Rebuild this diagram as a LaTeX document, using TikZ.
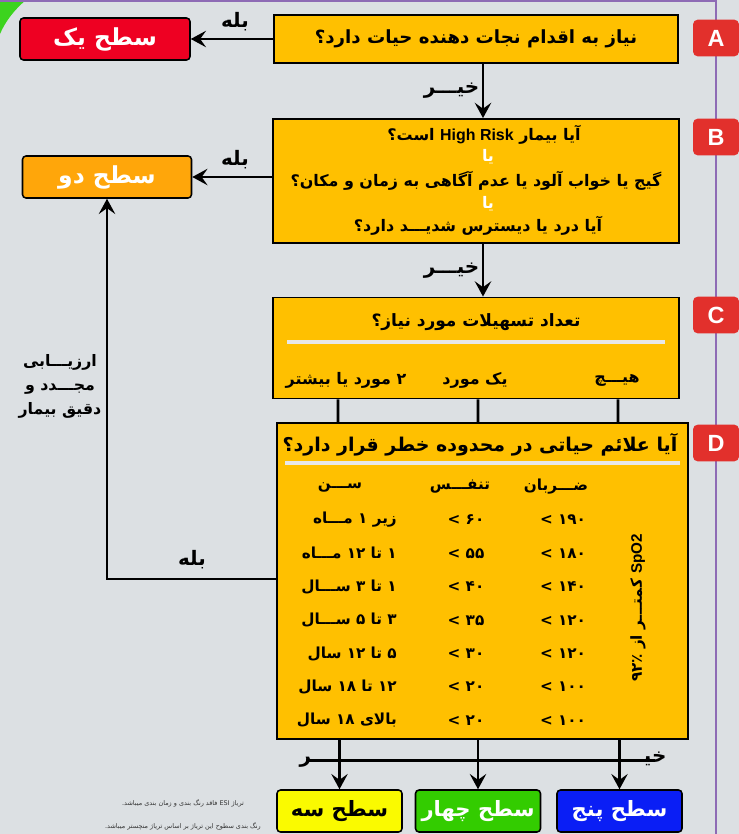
\documentclass[tikz,border=0pt]{standalone}
\usepackage{fontspec}
\setmainfont{DejaVu Sans}
\newfontfamily\fa[Script=Arabic]{DejaVu Sans}
\newfontfamily\lat{Liberation Sans}
\TeXXeTstate=1
\usetikzlibrary{arrows.meta,positioning}

\definecolor{bgray}{HTML}{DCE0E3}
\definecolor{qyellow}{HTML}{FFC000}
\definecolor{lvlred}{HTML}{EE0022}
\definecolor{lvlorange}{HTML}{FFA60A}
\definecolor{lvlyellow}{HTML}{FAFA00}
\definecolor{lvlgreen}{HTML}{33CC00}
\definecolor{lvlblue}{HTML}{0A1EF5}
\definecolor{tagred}{HTML}{E2302C}
\definecolor{edgepurple}{HTML}{8E6BB5}
\definecolor{cornergreen}{HTML}{3CD41E}
\definecolor{rulegray}{HTML}{E8E8E8}

\begin{document}
\begin{tikzpicture}[x=0.03cm, y=-0.03cm,
    qbox/.style={draw, line width=1.6pt, fill=qyellow, inner sep=0pt},
    lvl/.style={draw, line width=1.3pt, rounded corners=3pt, inner sep=0pt, minimum height=1.26cm, font=\fa\bfseries\fontsize{20}{22}\selectfont},
    tag/.style={fill=tagred, rounded corners=4pt, minimum width=1.38cm, minimum height=1.1cm, text=white, font=\lat\bfseries\fontsize{20}{22}\selectfont},
    txt/.style={inner sep=0pt, font=\fa\bfseries\fontsize{13.6}{15}\selectfont},
    big/.style={inner sep=0pt, font=\fa\bfseries\fontsize{15.5}{17}\selectfont},
    yn/.style={inner sep=0pt, font=\fa\bfseries\fontsize{17}{19}\selectfont},
    cell/.style={inner sep=0pt, font=\fa\bfseries\fontsize{13}{15}\selectfont},
    arr/.style={-{Stealth[length=13pt, width=14pt, inset=5pt]}, line width=2.4pt},
    link/.style={line width=2.4pt},
    rule/.style={draw=rulegray, line width=3pt}
]
    \fill[bgray] (0,0) rectangle (739,834);
    \useasboundingbox (0,0) rectangle (739,834);
    \fill[cornergreen] (0,0) -- (26,0) .. controls (14,10) and (5,22) .. (0,34) -- cycle;
    \draw[edgepurple, line width=1pt] (716,0) -- (716,834);
    \draw[edgepurple, line width=1pt] (0,1) -- (716,1);

    % step A
    \node[qbox, minimum width=12.12cm, minimum height=1.44cm, big] (qa) at (476,39) {\beginR نیاز به اقدام نجات دهنده حیات دارد؟\endR};
    \node[tag] (taga) at (716,38) {A};
    \node[lvl, fill=lvlred, text=white, minimum width=5.1cm] (one) at (105,39) {\beginR سطح یک\endR};
    \draw[arr] (qa) -- (one);
    \node[yn] (yesa) at (235,22) {\beginR بله\endR};

    % step B
    \node[qbox, minimum width=12.18cm, minimum height=3.72cm] (qb) at (476,181) {};
    \node[tag] (tagb) at (716,137) {B};
    \node[txt] (hr) at (484,135) {\beginR آیا بیمار \beginL{\lat\bfseries High Risk}\endL{} است؟\endR};
    \node[txt, text=white] (orb) at (488,157) {\beginR یا\endR};
    \node[txt] (confused) at (476,181) {\beginR گیج یا خواب آلود یا عدم آگاهی به زمان و مکان؟\endR};
    \node[txt, text=white] (orc) at (488,204) {\beginR یا\endR};
    \node[txt] (pain) at (478,226) {\beginR آیا درد یا دیسترس شدیـــد دارد؟\endR};
    \node[lvl, fill=lvlorange, text=white, minimum width=5.07cm] (two) at (107,177) {\beginR سطح دو\endR};
    \draw[arr] (qb.west |- two) -- (two);
    \node[yn] (yesb) at (235,160) {\beginR بله\endR};
    \draw[arr] ([xshift=0.21cm]qa.south) -- ([xshift=0.21cm]qb.north) node[midway, left=2pt, yn] (noa) {\beginR خیـــر\endR};

    % step C
    \node[qbox, minimum width=12.18cm, minimum height=3.03cm] (qc) at (476,348) {};
    \node[tag] (tagc) at (716,315) {C};
    \node[txt, font=\fa\bfseries\fontsize{14.5}{16}\selectfont] (need) at (476,322) {\beginR تعداد تسهیلات مورد نیاز؟\endR};
    \draw[rule] (287,342) -- (665,342);
    \node[txt] (none) at (617,380) {\beginR هیـــچ\endR};
    \node[txt] (single) at (475,380) {\beginR یک مورد\endR};
    \node[txt] (many) at (346,380) {\beginR ۲ مورد یا بیشتر\endR};
    \draw[arr] ([xshift=0.21cm]qb.south) -- ([xshift=0.21cm]qc.north) node[midway, left=2pt, yn] (nob) {\beginR خیـــر\endR};

    % step D
    \node[qbox, minimum width=12.33cm, minimum height=9.48cm] (qd) at (482.5,581) {};
    \node[tag] (tagd) at (716,443) {D};
    \foreach \dx in {-138,2,142}
        \draw[link] ([xshift=\dx*0.03cm]qc.south) -- ([xshift=\dx*0.03cm-0.195cm]qd.north);
    \node[big, font=\fa\bfseries\fontsize{16.2}{18}\selectfont] (vital) at (480,445) {\beginR آیا علائم حیاتی در محدوده خطر قرار دارد؟\endR};
    \draw[rule] (285,463) -- (680,463);
    \node[cell] (hage) at (340,487) {\beginR ســـن\endR};
    \node[cell] (hresp) at (460,487) {\beginR تنفـــس\endR};
    \node[cell] (hpuls) at (556,487) {\beginR ضـــربان\endR};
    \foreach \age/\resp/\puls [count=\i from 0] in {
        زیر ۱ مـــاه/۶۰/۱۹۰,
        ۱ تا ۱۲ مـــاه/۵۵/۱۸۰,
        ۱ تا ۳ ســـال/۴۰/۱۴۰,
        ۳ تا ۵ ســـال/۳۵/۱۲۰,
        ۵ تا ۱۲ سال/۳۰/۱۲۰,
        ۱۲ تا ۱۸ سال/۲۰/۱۰۰,
        بالای ۱۸ سال/۲۰/۱۰۰} {
        \node[cell, anchor=east] (age\i) at (397,520+33.4*\i) {\beginR \age\endR};
        \node[cell] (resp\i) at (466,520+33.4*\i) {> \resp};
        \node[cell] (puls\i) at (563,520+33.4*\i) {> \puls};
    }
    \node[cell, rotate=90] (spo) at (638,608) {\beginR \beginL{\lat\bfseries SpO2}\endL{} کمتـــر از ۹۲٪\endR};

    % levels three to five
    \node[lvl, fill=lvlyellow, text=black, minimum width=3.75cm, font=\fa\bfseries\fontsize{18}{20}\selectfont] (three) at (339.5,811) {\beginR سطح سه\endR};
    \node[lvl, fill=lvlgreen, text=white, minimum width=3.75cm, font=\fa\bfseries\fontsize{18}{20}\selectfont] (four) at (478,811) {\beginR سطح چهار\endR};
    \node[lvl, fill=lvlblue, text=white, minimum width=3.75cm, font=\fa\bfseries\fontsize{18}{20}\selectfont] (five) at (619.5,811) {\beginR سطح پنج\endR};
    \foreach \lv in {three,four,five}
        \draw[arr] (qd.south -| \lv.north) -- (\lv.north);
    \node[yn, anchor=base] (noc) at (483,762) {\beginR خیـ\hspace{9.55cm}ـر\endR};
    \draw[link] ([yshift=1.6pt, xshift=6pt]noc.base west) -- ([yshift=1.6pt, xshift=-10pt]noc.base east);

    % way back to level two
    \coordinate (back) at (277,579);
    \draw[arr] (back) -| (two.south);
    \node[yn] (yesd) at (192,560) {\beginR بله\endR};
    \node[txt, align=center, font=\fa\bfseries\fontsize{13.5}{20.5}\selectfont] (reeval) at (60,386) {\beginR ارزیـــابی\endR\\\beginR مجـــدد و\endR\\\beginR دقیق بیمار\endR};

    \node[inner sep=0pt, text=black!80, font=\fa\fontsize{5.5}{7}\selectfont] (note) at (183,803) {\beginR تریاژ \beginL ESI\endL{} فاقد رنگ بندی و زمان بندی میباشد.\endR};
    \node[inner sep=0pt, text=black!80, font=\fa\fontsize{5.5}{7}\selectfont] (notetwo) at (183,826) {\beginR رنگ بندی سطوح این تریاژ بر اساس تریاژ منچستر میباشد.\endR};
\end{tikzpicture}
\end{document}
